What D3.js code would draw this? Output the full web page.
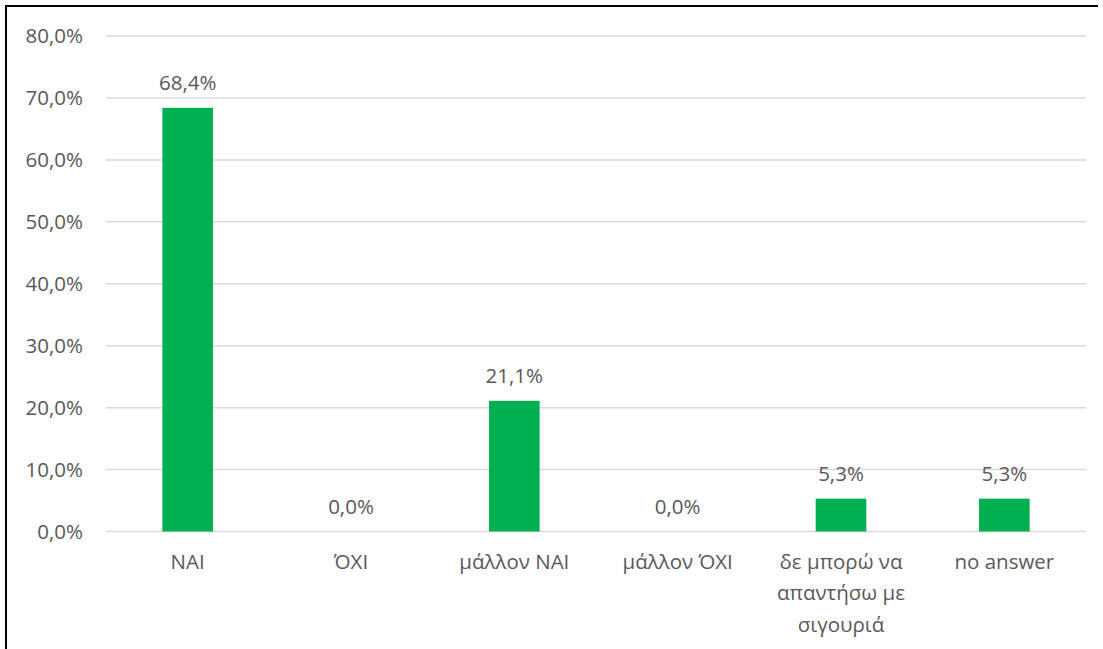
<!DOCTYPE html>
<html>
<head>
<meta charset="utf-8">
<script src="https://cdn.jsdelivr.net/npm/d3@7"></script>
<style>
  html, body { margin: 0; padding: 0; background: #fff; }
  svg { display: block; }
  text { font-family: "Open Sans", "Noto Sans", sans-serif; fill: #595959; }
</style>
</head>
<body>
<svg id="chart" width="1103" height="649"></svg>
<script>
// Survey answers and their shares (%)
const categories = ["NAI", "ΌΧΙ", "μάλλον NAI", "μάλλον ΌΧΙ", "δε μπορώ να απαντήσω με σιγουριά", "no answer"];
const values = [68.4, 0.0, 21.1, 0.0, 5.3, 5.3];
const yTicks = [0, 10, 20, 30, 40, 50, 60, 70, 80];

const svg = d3.select("#chart");
const W = 1103, H = 649;
const plot = { left: 106, right: 1086, top: 36, bottom: 531.5 };
const fontSize = 20.5;

const fmt = v => v.toFixed(1).replace(".", ",") + "%";

const x = d3.scaleBand()
  .domain(categories)
  .range([plot.left, plot.right])
  .paddingInner(0.69)
  .paddingOuter(0.345);

const y = d3.scaleLinear()
  .domain([0, 80])
  .range([plot.bottom, plot.top]);

// Frame line (left and top edges)
svg.append("path")
  .attr("d", `M6,${H} V6 H1098`)
  .attr("fill", "none")
  .attr("stroke", "#000")
  .attr("stroke-width", 2);

// Horizontal gridlines
svg.append("g")
  .selectAll("line")
  .data(yTicks)
  .join("line")
  .attr("x1", plot.left)
  .attr("x2", plot.right)
  .attr("y1", d => y(d))
  .attr("y2", d => y(d))
  .attr("stroke", "#D9D9D9")
  .attr("stroke-width", 1.5);

// Y axis labels
const yAxis = d3.axisLeft(y)
  .tickValues(yTicks)
  .tickFormat(fmt)
  .tickSize(0)
  .tickPadding(0);
const gy = svg.append("g")
  .attr("transform", `translate(83,0)`)
  .call(yAxis);
gy.select(".domain").remove();
gy.selectAll("text")
  .attr("font-size", fontSize)
  .attr("font-family", "'Open Sans', 'Noto Sans', sans-serif")
  .attr("fill", "#595959");

// Bars
const data = categories.map((c, i) => ({ c, v: values[i] }));
svg.append("g")
  .selectAll("rect")
  .data(data)
  .join("rect")
  .attr("x", d => x(d.c))
  .attr("width", x.bandwidth())
  .attr("y", d => y(d.v))
  .attr("height", d => y(0) - y(d.v))
  .attr("fill", "#00B050");

// Value labels above the bars
svg.append("g")
  .selectAll("text")
  .data(data)
  .join("text")
  .attr("x", d => x(d.c) + x.bandwidth() / 2)
  .attr("y", d => y(d.v) - 17.5)
  .attr("text-anchor", "middle")
  .attr("font-size", fontSize)
  .text(d => fmt(d.v));

// Category labels, wrapped to fit the band
const xAxis = d3.axisBottom(x).tickSize(0).tickPadding(0);
const gx = svg.append("g")
  .attr("transform", `translate(0,${plot.bottom})`)
  .call(xAxis);
gx.select(".domain").remove();
gx.selectAll("text")
  .attr("font-size", fontSize)
  .attr("font-family", "'Open Sans', 'Noto Sans', sans-serif")
  .attr("fill", "#595959")
  .each(function(label) {
    const t = d3.select(this);
    const words = label.split(" ");
    t.text(null).attr("y", 0).attr("dy", null);
    const maxW = 150, lineH = 31.5;
    let line = [], lines = [];
    const probe = t.append("tspan");
    words.forEach(w => {
      const test = line.concat(w).join(" ");
      probe.text(test);
      if (probe.node().getComputedTextLength() > maxW && line.length) {
        lines.push(line.join(" "));
        line = [w];
      } else {
        line.push(w);
      }
    });
    lines.push(line.join(" "));
    probe.remove();
    lines.forEach((l, i) => {
      t.append("tspan")
        .attr("x", 0)
        .attr("y", 37 + i * lineH)
        .text(l);
    });
  });
</script>
</body>
</html>
